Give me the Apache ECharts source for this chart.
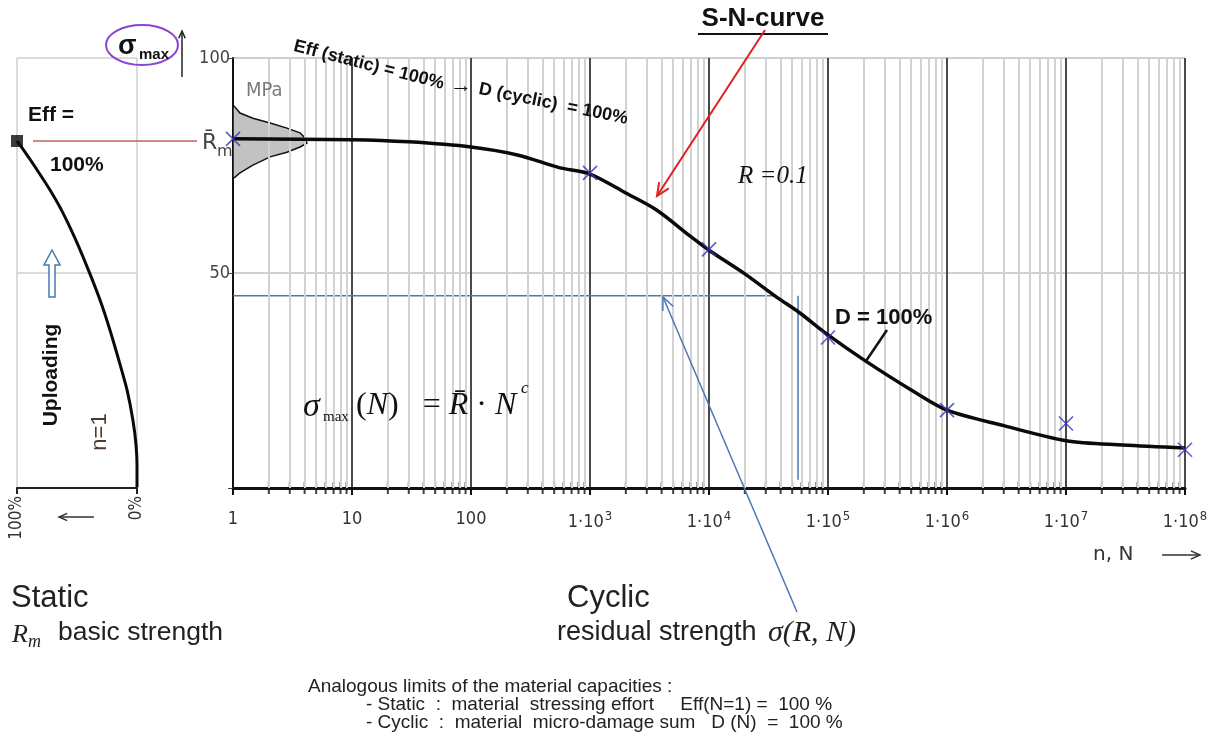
<!DOCTYPE html>
<html>
<head>
  <meta charset="UTF-8">
  <title>S-N-curve</title>
  <script src="https://cdn.jsdelivr.net/npm/echarts@6/dist/echarts.min.js"></script>
  <style>
    html, body { margin: 0; padding: 0; background: #fff; }
    #main { width: 1217px; height: 734px; }
  </style>
</head>
<body>
<div id="main"></div>
<script>
  // log axis: decades and the 2..9 steps inside each decade
  var decades = [1, 10, 100, 1e3, 1e4, 1e5, 1e6, 1e7, 1e8];
  var minorSteps = [2, 3, 4, 5, 6, 7, 8, 9];
  var supDigits = ['0', '1', '2', '3', '4', '5', '6', '7', '8'];

  // S-N curve, stress (MPa) against cycles N
  var snN = [1, 10, 30, 100, 250, 550, 1000, 2000, 3600, 7000, 1e4, 2e4, 3.7e4, 5.8e4, 1e5, 2e5, 5e5, 1e6, 3e6, 1e7, 3e7, 1e8];
  var snS = [81.2, 81.0, 80.5, 79.3, 77.4, 74.5, 73.0, 68.6, 64.7, 58.5, 55.3, 49.8, 44.4, 40.7, 35.6, 29.8, 22.8, 18.1, 14.5, 11.0, 10.0, 9.3];

  // test points (blue crosses)
  var testN = [1, 1e3, 1e4, 1e5, 1e6, 1e7, 1e8];
  var testS = [81.2, 73.3, 55.5, 35.0, 18.1, 15.0, 8.9];

  // scatter band of the static strength around Rm (outline, clockwise)
  var bandN = [1, 1.145, 1.47, 2.05, 2.84, 3.66, 4.03, 4.18, 3.66, 2.84, 2.05, 1.47, 1.145, 1.04, 1];
  var bandS = [89.1, 87.2, 86.0, 84.9, 83.7, 82.6, 81.4, 80.2, 79.3, 78.1, 77.0, 75.1, 73.3, 72.3, 72.0];

  // residual strength construction (blue lines)
  var resLineN = [1, 37000];
  var resLineS = [44.7, 44.7];
  var resDropN = [56000, 56000];
  var resDropS = [44.7, 1.9];

  // static uploading curve: effort (%) against stress (MPa)
  var effPct = [100, 93.3, 85.0, 72.5, 62.5, 51.7, 40.8, 30.8, 22.5, 14.2, 8.3, 3.3, 0.8, 0, 0];
  var effS = [80.7, 78.1, 74.7, 69.3, 64.4, 58.1, 50.9, 43.7, 36.7, 28.8, 22.8, 15.6, 10.0, 5.3, 0.2];

  var chart = echarts.init(document.getElementById('main'));

  var minorVals = [];
  decades.slice(0, -1).forEach(function (d) {
    minorSteps.forEach(function (s) { minorVals.push(d * s); });
  });

  function zip(a, b) {
    return a.map(function (v, i) { return [v, b[i]]; });
  }

  function arrow(x1, y1, x2, y2, color, w, head) {
    var a = Math.atan2(y2 - y1, x2 - x1), s = 0.42;
    return [
      { type: 'line', z: 50, silent: true, shape: { x1: x1, y1: y1, x2: x2, y2: y2 }, style: { stroke: color, lineWidth: w } },
      { type: 'polyline', z: 50, silent: true, shape: { points: [
          [x2 - head * Math.cos(a - s), y2 - head * Math.sin(a - s)], [x2, y2],
          [x2 - head * Math.cos(a + s), y2 - head * Math.sin(a + s)]] },
        style: { stroke: color, lineWidth: w, fill: 'none' } }
    ];
  }

  function txt(x, y, text, st, rot) {
    var style = {
      text: text, fill: '#111', fontSize: 16, fontFamily: 'Liberation Sans',
      textAlign: 'left', align: 'left', textVerticalAlign: 'middle', verticalAlign: 'middle'
    };
    for (var k in st) style[k] = st[k];
    if (st.textAlign) style.align = st.textAlign;
    return { type: 'text', x: x, y: y, rotation: rot || 0, z: 60, silent: true, style: style };
  }

  var serif = 'Liberation Serif';
  var cond = 'DejaVu Sans Condensed';

  var graphics = [
    // sigma max label with ellipse and arrow
    { type: 'ellipse', z: 50, silent: true, shape: { cx: 142, cy: 45, rx: 36, ry: 20 }, style: { stroke: '#8a44d4', lineWidth: 2, fill: 'none' } },
    txt(118, 47, 'σ', { fontSize: 27, fontWeight: 'bold' }),
    txt(139, 55, 'max', { fontSize: 15, fontWeight: 'bold' }),
    txt(28, 115, 'Eff =', { fontSize: 21, fontWeight: 'bold' }),
    txt(50, 165, '100%', { fontSize: 21, fontWeight: 'bold' }),
    { type: 'line', z: 40, silent: true, shape: { x1: 33, y1: 141, x2: 197, y2: 141 }, style: { stroke: '#c06060', lineWidth: 1.5 } },
    txt(202, 143, 'R̄', { fontSize: 22, fontFamily: 'DejaVu Sans', fill: '#444' }),
    txt(217, 152, 'm', { fontSize: 16, fontFamily: 'DejaVu Sans', fill: '#444' }),
    txt(246, 91, 'MPa', { fontSize: 20, fontFamily: cond, fill: '#7a7a7a' }),
    txt(294, 46, 'Eff (static) = 100%', { fontSize: 18, fontWeight: 'bold' }, -0.25),
    txt(450, 86, '→', { fontSize: 22, fontWeight: 'bold' }),
    txt(479, 89, 'D (cyclic)  = 100%', { fontSize: 18, fontWeight: 'bold' }, -0.2),
    txt(763, 19, 'S-N-curve', { fontSize: 26, fontWeight: 'bold', textAlign: 'center' }),
    { type: 'line', z: 50, silent: true, shape: { x1: 698, y1: 34, x2: 828, y2: 34 }, style: { stroke: '#111', lineWidth: 2 } },
    txt(738, 176, 'R =0.1', { fontSize: 25, fontFamily: serif, fontStyle: 'italic' }),
    txt(835, 318, 'D = 100%', { fontSize: 22, fontWeight: 'bold' }),
    { type: 'line', z: 50, silent: true, shape: { x1: 887, y1: 330, x2: 866, y2: 361 }, style: { stroke: '#111', lineWidth: 2.5 } },
    // formula
    txt(303, 407, 'σ', { fontSize: 34, fontFamily: serif, fontStyle: 'italic' }),
    txt(323, 417, 'max', { fontSize: 15, fontFamily: serif }),
    txt(356, 406, '{p|(}{i|N}{p|)   = }{i|R̄}{p| · }{i|N}', {
      fontSize: 32, fontFamily: serif,
      rich: {
        p: { fontSize: 32, fontFamily: serif, fill: '#111' },
        i: { fontSize: 32, fontFamily: serif, fontStyle: 'italic', fill: '#111' }
      }
    }),
    txt(521, 389, 'c', { fontSize: 17, fontFamily: serif, fontStyle: 'italic' }),
    // left panel texts
    txt(51, 375, 'Uploading', { fontSize: 21, fontWeight: 'bold', textAlign: 'center' }, Math.PI / 2),
    txt(100, 432, 'n=1', { fontSize: 22, fill: '#4d3b30', textAlign: 'center' }, Math.PI / 2),
    { type: 'polygon', z: 50, silent: true, shape: { points: [[52, 250], [44, 265], [49, 265], [49, 297], [55, 297], [55, 265], [60, 265]] },
      style: { stroke: '#4a78b0', lineWidth: 1.5, fill: '#fff' } },
    txt(1093, 555, 'n, N', { fontSize: 20, fontFamily: 'DejaVu Sans', fill: '#333' }),
    // bottom texts
    txt(11, 598, 'Static', { fontSize: 31, fill: '#222' }),
    txt(12, 635, 'R', { fontSize: 26, fontFamily: serif, fontStyle: 'italic', fill: '#222' }),
    txt(28, 642, 'm', { fontSize: 18, fontFamily: serif, fontStyle: 'italic', fill: '#222' }),
    txt(58, 633, 'basic strength', { fontSize: 26.5, fill: '#222' }),
    txt(567, 598, 'Cyclic', { fontSize: 31, fill: '#222' }),
    txt(557, 633, 'residual strength', { fontSize: 27, fill: '#222' }),
    txt(768, 633, 'σ(R, N)', { fontSize: 30, fontFamily: serif, fontStyle: 'italic', fill: '#222' }),
    txt(308, 687, 'Analogous limits of the material capacities :', { fontSize: 19, fill: '#222' }),
    txt(366, 705, '- Static  :  material  stressing effort     Eff(N=1) =  100 %', { fontSize: 19, fill: '#222' }),
    txt(366, 723, '- Cyclic  :  material  micro-damage sum   D (N)  =  100 %', { fontSize: 19, fill: '#222' })
  ];
  graphics = graphics
    .concat(arrow(182, 77, 182, 31, '#222', 1.5, 8))
    .concat(arrow(765, 30, 657, 196, '#e02020', 2, 14))
    .concat(arrow(797, 612, 663, 297, '#4a78b0', 1.5, 14))
    .concat(arrow(1162, 555, 1200, 555, '#333', 1.5, 10))
    .concat(arrow(94, 517, 59, 517, '#333', 1.5, 9));

  chart.setOption({
    animation: false,
    textStyle: { fontFamily: 'Liberation Sans' },
    grid: [
      { left: 233, top: 58, width: 952, height: 430 },
      { left: 17, top: 58, width: 120, height: 430 }
    ],
    xAxis: [
      {
        type: 'log', logBase: 10, min: 1, max: 1e8, splitNumber: 8, gridIndex: 0,
        axisLine: { show: true, onZero: false, lineStyle: { color: '#111', width: 3 } },
        axisTick: { show: true, length: 7, lineStyle: { color: '#111', width: 2 } },
        axisLabel: {
          margin: 22, color: '#333', fontSize: 18, fontFamily: cond,
          formatter: function (v) {
            var e = Math.round(Math.log10(v));
            return e < 3 ? String(v) : '{b|1·10}{s|' + supDigits[e] + '}';
          },
          rich: {
            b: { fontSize: 18, fontFamily: cond, color: '#333' },
            s: { fontSize: 13, fontFamily: cond, color: '#333', padding: [0, 0, 12, 1] }
          }
        },
        splitLine: { show: true, lineStyle: { color: '#4a4a4a', width: 2 } }
      },
      {
        type: 'value', min: 0, max: 100, interval: 100, inverse: true, gridIndex: 1,
        axisLine: { show: true, onZero: false, lineStyle: { color: '#222', width: 2 } },
        axisTick: { show: true, length: 6, lineStyle: { color: '#222', width: 2 } },
        axisLabel: { rotate: 90, margin: 8, color: '#333', fontSize: 17, fontFamily: cond, formatter: '{value}%' },
        splitLine: { show: true, lineStyle: { color: '#cfcfcf', width: 1.5 } }
      }
    ],
    yAxis: [
      {
        type: 'value', min: 0, max: 100, interval: 50, gridIndex: 0,
        axisLine: { show: true, lineStyle: { color: '#111', width: 2 } },
        axisTick: { show: true, length: 5, lineStyle: { color: '#444' } },
        axisLabel: { margin: 3, color: '#444', fontSize: 18, fontFamily: cond,
          formatter: function (v) { return v === 0 ? '' : v; } },
        splitLine: { show: true, lineStyle: { color: '#cfcfcf', width: 2 } }
      },
      {
        type: 'value', min: 0, max: 100, interval: 50, gridIndex: 1,
        axisLine: { show: false }, axisTick: { show: false }, axisLabel: { show: false },
        splitLine: { show: true, lineStyle: { color: '#cfcfcf', width: 1.5 } }
      }
    ],
    series: [
      {
        // minor vertical grid lines
        type: 'line', xAxisIndex: 0, yAxisIndex: 0, data: [], z: 1, silent: true,
        markLine: {
          silent: true, symbol: ['none', 'none'], label: { show: false },
          lineStyle: { color: '#d2d2d2', width: 2, type: 'solid' },
          data: minorVals.map(function (v) { return { xAxis: v }; })
        }
      },
      {
        // minor ticks on the N axis
        type: 'scatter', xAxisIndex: 0, yAxisIndex: 0, clip: false, silent: true, z: 4,
        symbol: 'rect', symbolSize: [2, 12], itemStyle: { color: '#111' },
        data: minorVals.map(function (v) { return [v, 0]; })
      },
      {
        type: 'custom', xAxisIndex: 0, yAxisIndex: 0, z: 3, silent: true,
        data: [[1, 80]],
        renderItem: function (params, api) {
          var pts = bandN.map(function (n, i) { return api.coord([n, bandS[i]]); });
          return { type: 'polygon', shape: { points: pts }, style: { fill: '#c2c2c2', stroke: '#111', lineWidth: 1.5 } };
        }
      },
      {
        name: 'S-N-curve', type: 'line', xAxisIndex: 0, yAxisIndex: 0, z: 5,
        data: zip(snN, snS), smooth: 0.3, showSymbol: false,
        lineStyle: { color: '#0a0a0a', width: 3.5 }
      },
      {
        type: 'line', xAxisIndex: 0, yAxisIndex: 0, z: 4, showSymbol: false,
        data: zip(resLineN, resLineS), lineStyle: { color: '#4a78b0', width: 1.5 }
      },
      {
        type: 'line', xAxisIndex: 0, yAxisIndex: 0, z: 4, showSymbol: false,
        data: zip(resDropN, resDropS), lineStyle: { color: '#4a78b0', width: 1.5 }
      },
      {
        type: 'scatter', xAxisIndex: 0, yAxisIndex: 0, z: 6, clip: false,
        symbol: 'path://M0,0L10,10M10,0L0,10', symbolSize: 14,
        itemStyle: { color: 'rgba(0,0,0,0)', borderColor: '#3636b8', borderWidth: 1.6 },
        data: zip(testN, testS)
      },
      {
        type: 'line', xAxisIndex: 1, yAxisIndex: 1, z: 5, showSymbol: false,
        data: zip(effPct, effS), smooth: 0.2,
        lineStyle: { color: '#0a0a0a', width: 3 }
      },
      {
        type: 'scatter', xAxisIndex: 1, yAxisIndex: 1, z: 6, clip: false,
        symbol: 'rect', symbolSize: 12, itemStyle: { color: '#0a0a0a' },
        data: [[effPct[0], effS[0]]]
      }
    ],
    graphic: { elements: graphics }
  });
</script>
</body>
</html>
